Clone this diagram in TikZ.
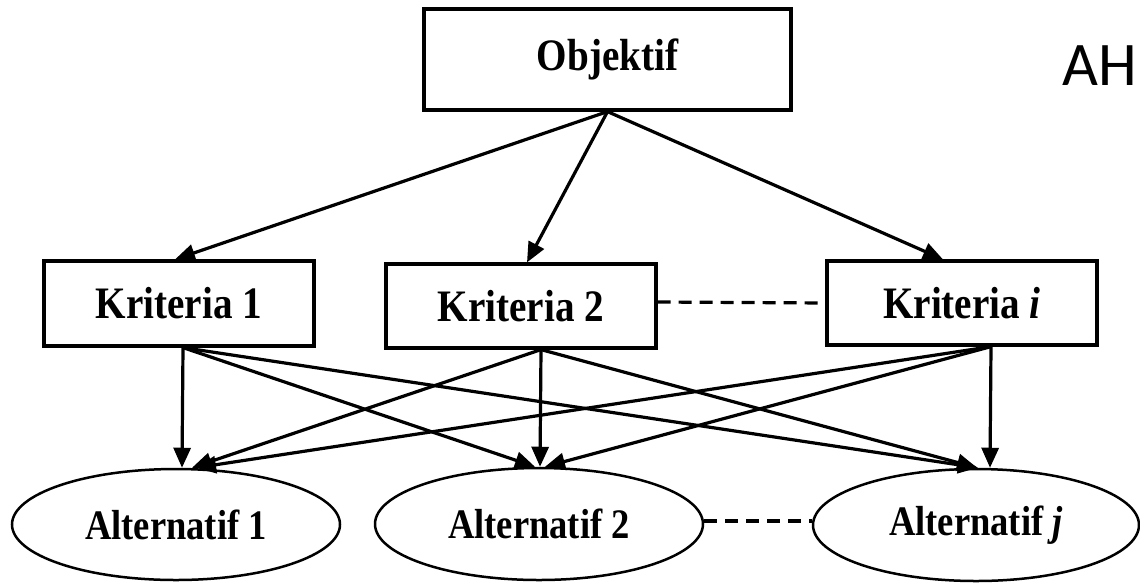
\documentclass[tikz,border=0pt]{standalone}
\usepackage{fontspec}
\usetikzlibrary{shapes.geometric,arrows.meta}
\newfontfamily\labfont[FakeStretch=0.87]{Liberation Serif}
\newfontfamily\ahfont{Carlito}
\begin{document}
\begin{tikzpicture}[x=1pt,y=-1pt,
  boxnode/.style={draw,line width=3.2pt,rectangle,inner sep=0pt,
    font=\labfont\bfseries\fontsize{45}{50}\selectfont},
  altnode/.style={draw,line width=2.5pt,ellipse,inner sep=0pt,
    font=\labfont\bfseries\fontsize{42}{46}\selectfont},
  arr/.style={line width=3.2pt,-{Triangle[length=20pt,width=17pt]}},
  dashline/.style={line width=3.2pt,dash pattern=on 13pt off 8pt}]
\useasboundingbox (0,0) rectangle (1140,582);
\node[boxnode,minimum width=367pt,minimum height=101pt] (obj) at (607.5,59.5) {Objektif};
\node[anchor=base west,font=\ahfont\fontsize{62}{70}\selectfont,inner sep=0pt] (ah) at (1062,85) {AH};
\node[boxnode,minimum width=270pt,minimum height=85pt] (k1) at (179,303.5) {Kriteria 1};
\node[boxnode,minimum width=270pt,minimum height=84pt] (k2) at (521,306) {Kriteria 2};
\node[boxnode,minimum width=270pt,minimum height=84pt] (ki) at (962,303) {Kriteria \textit{i}};
\node[altnode,minimum width=328pt,minimum height=111pt] (a1) at (176,524.5) {Alternatif 1};
\node[altnode,minimum width=328pt,minimum height=112pt] (a2) at (539,524) {Alternatif 2};
\node[altnode,minimum width=326pt,minimum height=112pt] (aj) at (976,525) {Alternatif \textit{j}};
% objective to criteria
\draw[arr] (obj.south) -- ([xshift=-4pt]k1.north);
\draw[arr] (obj.south) -- ([xshift=6pt]k2.north);
\draw[arr] (obj.south) -- ([xshift=-19pt]ki.north);
% criteria to alternatives
\draw[arr] ([xshift=4pt]k1.south) -- ([xshift=6pt]a1.north);
\draw[arr] ([xshift=4pt]k1.south) -- ([xshift=-4pt]a2.north);
\draw[arr] ([xshift=4pt]k1.south) -- ([xshift=2pt]aj.north);
\draw[arr] ([xshift=20pt]k2.south) -- ([xshift=16pt]a1.north);
\draw[arr] ([xshift=20pt]k2.south) -- ([xshift=1pt]a2.north);
\draw[arr] ([xshift=20pt]k2.south) -- ([xshift=1pt]aj.north);
\draw[arr] ([xshift=29pt]ki.south) -- ([xshift=20pt]a1.north);
\draw[arr] ([xshift=29pt]ki.south) -- ([xshift=6pt]a2.north);
\draw[arr] ([xshift=29pt]ki.south) -- ([xshift=14pt]aj.north);
% dashed links
\draw[dashline] ([yshift=4pt]k2.east) -- (ki.west);
\draw[dashline] ([yshift=3pt]a2.east) -- ([yshift=4pt]aj.west);
\end{tikzpicture}
\end{document}
